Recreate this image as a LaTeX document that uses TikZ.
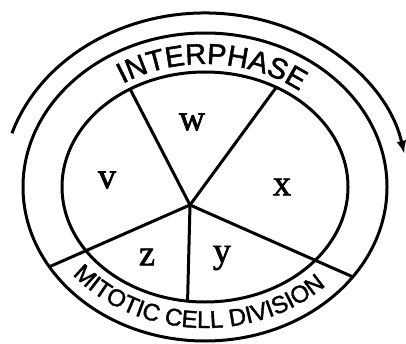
\documentclass[tikz,border=0pt]{standalone}
\usepackage{fontspec}
\setmainfont[FakeBold=1.8]{Liberation Serif}
\newfontfamily\bandfont[FakeBold=1.6]{Liberation Sans}
\usetikzlibrary{arrows.meta,decorations.text}

\begin{document}
\begin{tikzpicture}[x=1pt, y=1pt, every node/.style={font=\fontsize{36}{38}\selectfont}]
    \tikzstyle{ring}=[draw=black, line width=3pt]
    \tikzstyle{spoke}=[draw=black, line width=3pt]
    \tikzstyle{phase}=[inner sep=0pt]
    \useasboundingbox (0,0) rectangle (406,343);
    \coordinate (o) at (205,156);
    \coordinate (c) at (190,138);
    % rings and the cycle arrow
    \draw[ring] (o) ellipse [x radius=182, y radius=154];
    \draw[ring] (o) ellipse [x radius=143, y radius=115];
    \draw[ring, -{Latex[length=13pt, width=10pt]}] (o) ++(162:203 and 174) arc[start angle=162, end angle=11, x radius=203, y radius=174];
    % band texts
    \path[decorate, decoration={text along path, text align=center, text={|\bandfont\fontsize{29}{29}\selectfont|INTERPHASE}}] (o) ++(130:151 and 123) arc[start angle=130, end angle=44, x radius=151, y radius=123];
    \path[decorate, decoration={text along path, text align=center, text={|\bandfont\fontsize{24}{24}\selectfont|MITOTIC CELL DIVISION}}] (o) ++(216:169 and 141) arc[start angle=216, end angle=318, x radius=169, y radius=141];
    % spokes
    \path (o) ++(121.6:143 and 115) coordinate (vw);
    \path (o) ++(60.1:143 and 115) coordinate (wx);
    \path (o) ++(-35.7:182 and 154) coordinate (xy);
    \path (o) ++(263:143 and 115) coordinate (yz);
    \path (o) ++(211.2:182 and 154) coordinate (zv);
    \draw[spoke] (c) -- (vw);
    \draw[spoke] (c) -- (wx);
    \draw[spoke] (c) -- (xy);
    \draw[spoke] (c) -- (yz);
    \draw[spoke] (c) -- (zv);
    % phase letters
    \node[phase] (w) at (192,221) {w};
    \node[phase] (v) at (107,163) {v};
    \node[phase] (x) at (282,156) {x};
    \node[phase] (z) at (147,86) {z};
    \node[phase] (y) at (222,85) {y};
\end{tikzpicture}
\end{document}
